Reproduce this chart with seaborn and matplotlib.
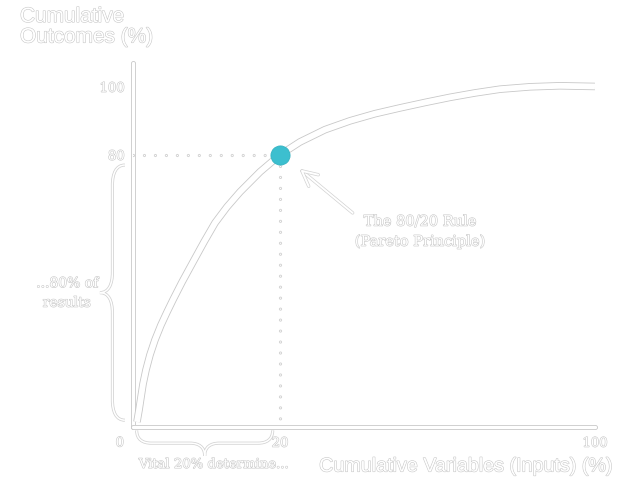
import numpy as np
import matplotlib
matplotlib.use("Agg")
import matplotlib.pyplot as plt
import matplotlib.patheffects as pe
from matplotlib.path import Path
from matplotlib.patches import PathPatch
import seaborn as sns

# cumulative variables (%) vs cumulative outcomes (%)
curve_x = [0.54, 0.82, 1.09, 1.36, 1.77, 2.31, 2.99, 3.81, 4.63, 5.44, 6.67, 8.16, 9.66,
           11.16, 12.79, 14.56, 17.28, 20, 25.08, 31.43, 37.78, 44.13, 50.48, 56.83,
           63.17, 69.52, 75.87, 83.49, 91.11, 100]
curve_y = [1.5, 5.0, 8.8, 12.6, 16.8, 21.2, 25.6, 30.0, 33.8, 37.4, 42.6, 48.5, 54.4,
           60.0, 64.7, 69.1, 75.0, 80, 83.8, 87.4, 90.0, 92.1, 93.8, 95.4,
           96.9, 98.2, 99.3, 100, 100.3, 100.1]
pareto_x = [20]
pareto_y = [80]
x_ticks = [20, 100]
y_ticks = [80, 100]

GRAY = "#c8c8c8"
LIGHT = "#d2d2d2"
TEAL = "#3cbfcf"
BREAK = 31.82  # the 20% mark sits at ~32% of the axis width in the original


def fwd(x):
    x = np.asarray(x, dtype=float)
    return np.where(x <= 20, x * BREAK / 20, BREAK + (x - 20) * (100 - BREAK) / 80)


def inv(x):
    x = np.asarray(x, dtype=float)
    return np.where(x <= BREAK, x * 20 / BREAK, 20 + (x - BREAK) * 80 / (100 - BREAK))


def outline(w, c=GRAY):
    return [pe.withStroke(linewidth=w, foreground=c)]


def brace(ax, a, b, base, depth, r, vertical):
    m = (a + b) / 2
    uv = [(a, 0), (a, 0.35), (a + 0.4 * r, 0.5), (a + r, 0.5),
          (m - r, 0.5),
          (m - 0.4 * r, 0.5), (m, 0.65), (m, 1.0),
          (m, 0.65), (m + 0.4 * r, 0.5), (m + r, 0.5),
          (b - r, 0.5),
          (b - 0.4 * r, 0.5), (b, 0.35), (b, 0)]
    codes = [Path.MOVETO] + [Path.CURVE4] * 3 + [Path.LINETO] + [Path.CURVE4] * 6 \
        + [Path.LINETO] + [Path.CURVE4] * 3
    if vertical:
        verts = [(base + f * depth, u) for u, f in uv]
    else:
        verts = [(u, base + f * depth) for u, f in uv]
    patch = PathPatch(Path(verts, codes), facecolor="none", edgecolor="white",
                      lw=1.1, clip_on=False, path_effects=outline(2.2, LIGHT))
    ax.add_patch(patch)


sns.set_theme(style="white")
fig = plt.figure(figsize=(6.34, 4.84), dpi=100)
ax = fig.add_axes([133 / 634, 57 / 484, 462 / 634, 364 / 484])
ax.set_xscale("function", functions=(fwd, inv))
ax.set_xlim(0, 100)
ax.set_ylim(0, 107)

# dotted guides to the 80/20 point
dots = dict(color="white", lw=1.0, linestyle=(0, (0.001, 7.9)),
            dash_capstyle="round", path_effects=outline(2.3, LIGHT))
ax.plot([0, 20], [80, 80], **dots)
ax.plot([20, 20], [80, 0], **dots)

sns.lineplot(x=curve_x, y=curve_y, ax=ax, color="white", lw=4.2,
             solid_capstyle="butt", path_effects=outline(5.4))
sns.scatterplot(x=pareto_x, y=pareto_y, ax=ax, s=190, color=TEAL,
                edgecolor="#35b3c2", linewidth=0.6, zorder=5)

for side in ["top", "right"]:
    ax.spines[side].set_visible(False)
for side in ["left", "bottom"]:
    sp = ax.spines[side]
    sp.set_color("white")
    sp.set_linewidth(2.4)
    sp.set_capstyle("round")
    sp.set_path_effects(outline(3.6))
    sp.set_zorder(1)

serif = "DejaVu Serif"
ax.set_xticks(x_ticks)
ax.set_xticklabels([str(v) for v in x_ticks])
ax.set_yticks(y_ticks)
ax.set_yticklabels([str(v) for v in y_ticks])
ax.tick_params(length=0, labelsize=9.5, labelcolor="white")
ax.tick_params(axis="x", pad=7)
ax.tick_params(axis="y", pad=6)
for lbl in ax.get_xticklabels() + ax.get_yticklabels():
    lbl.set_family(serif)
    lbl.set_path_effects(outline(0.8))
ax.annotate("0", xy=(0, 0), xytext=(-9.5, -11.5), textcoords="offset points",
            ha="center", va="center", fontsize=9.5, family=serif, color="white",
            path_effects=outline(0.8))

# axis titles
sans = "Liberation Sans"
fig.text(20 / 634, 1 - 7 / 484, "Cumulative\nOutcomes (%)", ha="left", va="top",
         fontsize=15, family=sans, color="white", linespacing=1.1,
         path_effects=outline(0.8))
fig.text(614 / 634, 1 - 466 / 484, "Cumulative Variables (Inputs) (%)", ha="right",
         va="center", fontsize=14.2, family=sans, color="white",
         path_effects=outline(0.8))

# annotations
ax.annotate("", xy=(24.6, 76.2), xytext=(39, 62.4),
            arrowprops=dict(arrowstyle="->,head_length=0.9,head_width=0.45", color="white",
                            lw=1.4, path_effects=outline(2.4, LIGHT)))
ax.text(55.6, 57.4, "The 80/20 Rule\n(Pareto Principle)", ha="center", va="center",
        fontsize=10.5, family=serif, color="white", linespacing=1.5,
        path_effects=outline(0.8))
ax.text(-9, 39.4, "...80% of\nresults", ha="center", va="center", fontsize=10,
        family=serif, color="white", linespacing=1.5, clip_on=False,
        path_effects=outline(0.8))
ax.text(11, -11, "Vital 20% determine...", ha="center", va="center", fontsize=9.5,
        family=serif, color="white", clip_on=False, path_effects=outline(0.8))

brace(ax, 2, 77, -1.1, -3.4, 6, vertical=True)
brace(ax, 0.5, 19.0, -1.0, -7.5, 2.0, vertical=False)

fig.savefig("out.png", dpi=100, facecolor="white")
